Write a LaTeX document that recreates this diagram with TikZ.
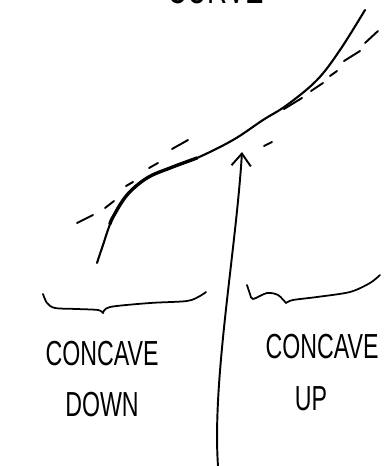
\documentclass[tikz,border=0pt]{standalone}
\usepackage{fontspec}
\setsansfont{Liberation Sans}
\usetikzlibrary{arrows.meta}
\tikzset{
  curveline/.style={line width=1.2pt, line cap=round, line join=round},
  tangentdash/.style={line width=1.1pt, line cap=round},
  braceline/.style={line width=1pt, line cap=round, line join=round},
  arr/.style={-{Straight Barb[length=7pt,width=11pt,line width=1.1pt]}, line width=1.1pt, line cap=round},
  handlbl/.style={font=\fontsize{13.2}{15}\selectfont\sffamily, inner sep=0pt, yscale=1.5, transform shape},
}

\begin{document}
\begin{tikzpicture}[x=0.02cm, y=-0.02cm]

% Frame
\useasboundingbox (0,0) rectangle (389,466);
\clip (0,0) rectangle (389,466);

% Title (cut off at the top)
\node[handlbl, font=\fontsize{15.7}{17}\selectfont\sffamily, anchor=base] (title) at (216,4) {CURVE};

% The curve
\draw[curveline] plot[smooth, tension=0.6] coordinates {
  (97,263) (102,248) (113,217) (127,195) (147,178) (170,168) (197,158)
  (233,140) (263,120) (287,105) (317,80) (340,50) (365,10)};
\draw[curveline, line width=1.9pt] plot[smooth, tension=0.6] coordinates {
  (110,224) (113,217) (127,195) (147,178) (170,168) (197,158)};

% Tangent, concave down part
\foreach \a/\b in {{(77,223)}/{(93,215)}, {(105,208)}/{(114,201)}, {(126,186)}/{(133,182)},
                   {(149,168)}/{(158,163)}, {(172,149)}/{(188,140)}}
  \draw[tangentdash] \a -- \b;

% Tangent, concave up part
\foreach \a/\b in {{(264,146)}/{(272,142)}, {(284,109)}/{(302,98)}, {(311,91)}/{(323,83)},
                   {(330,76)}/{(337,71)}, {(344,61)}/{(360,51)}, {(365,43)}/{(378,31)}}
  \draw[tangentdash] \a -- \b;

% Arrow to the inflection point
\coordinate (ip) at (242,152);
\coordinate (foot) at (218,466);
\draw[arr] (foot) .. controls (212,380) and (236,250) .. (ip);

% Braces
\draw[braceline] plot[smooth] coordinates {(43,294) (47,303) (55,308) (77,309) (98,310) (103,313)};
\draw[braceline] plot[smooth] coordinates {(103,313) (110,307) (150,303) (187,301) (200,296) (206,292)};
\draw[braceline] plot[smooth] coordinates {(247,285) (250,294) (253,299) (267,293) (278,295) (286,303)};
\draw[braceline] plot[smooth] coordinates {(286,303) (293,300) (317,297) (350,292) (370,283) (380,275)};

% Labels
\node[handlbl] (cdown) at (102,354) {CONCAVE};
\node[handlbl] (down) at (102,405) {DOWN};
\node[handlbl] (cup) at (322,347) {CONCAVE};
\node[handlbl] (up) at (311,399) {UP};

\end{tikzpicture}
\end{document}
